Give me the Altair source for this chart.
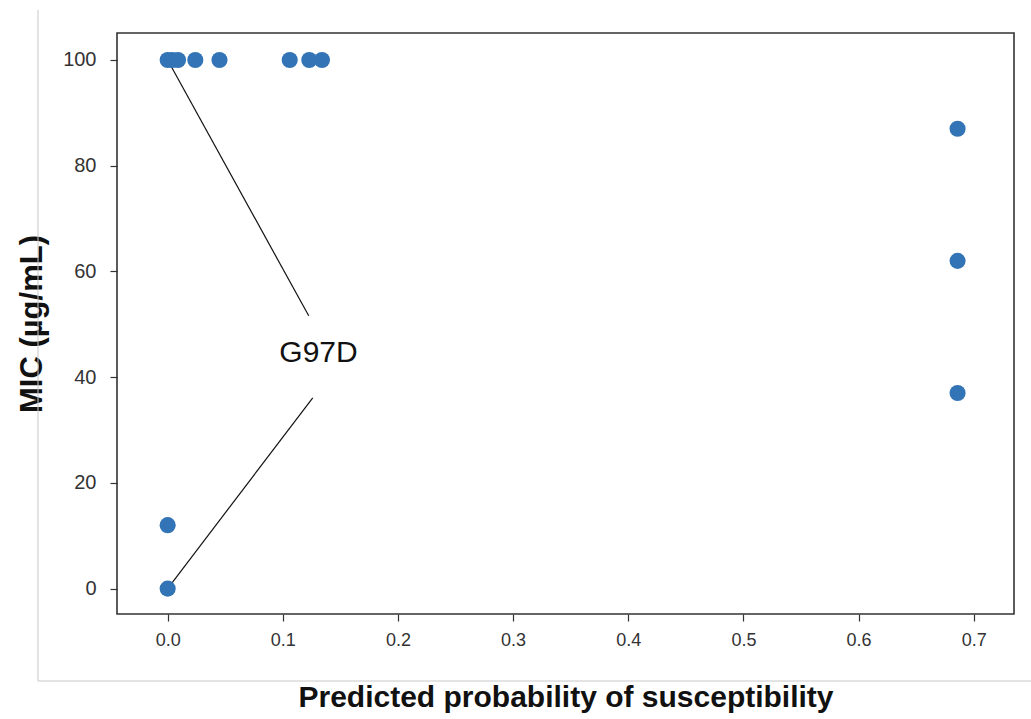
import altair as alt
import pandas as pd

# Scatter data
prob = [0.0, 0.004, 0.009, 0.024, 0.045, 0.106, 0.123, 0.134, 0.0, 0.0, 0.686, 0.686, 0.686]
mic = [100, 100, 100, 100, 100, 100, 100, 100, 12, 0, 87, 62, 37]

# Annotation "G97D" with two leader lines
ann_label = ["G97D"]
ann_text_x = [0.131]
ann_text_y = [44.5]
ann_line_x = [0.0, 0.0]
ann_line_y = [100, 0]
ann_line_x2 = [0.1225, 0.126]
ann_line_y2 = [51.6, 36.1]

x_ticks = [0.0, 0.1, 0.2, 0.3, 0.4, 0.5, 0.6, 0.7]
y_ticks = [0, 20, 40, 60, 80, 100]

pts = pd.DataFrame({"prob": prob, "mic": mic})
lines = pd.DataFrame({"x": ann_line_x, "y": ann_line_y, "x2": ann_line_x2, "y2": ann_line_y2})
txt = pd.DataFrame({"x": ann_text_x, "y": ann_text_y, "label": ann_label})

FONT = "Liberation Sans"

xscale = alt.Scale(domain=[-0.044, 0.735], nice=False, zero=False)
yscale = alt.Scale(domain=[-4.8, 105.1], nice=False, zero=False)

xaxis = alt.Axis(
    title="Predicted probability of susceptibility",
    values=x_ticks, format=".1f", grid=False, domain=False,
    tickColor="#333333", tickSize=7, tickWidth=1.2,
    labelFont=FONT, labelFontSize=18, labelColor="#333333", labelPadding=10,
    titleFont=FONT, titleFontSize=30, titleFontWeight="bold", titleColor="#111111",
    titlePadding=33,
)
yaxis = alt.Axis(
    title="MIC (µg/mL)",
    values=y_ticks, grid=False, domain=False,
    tickColor="#333333", tickSize=7, tickWidth=1.2,
    labelFont=FONT, labelFontSize=20, labelColor="#333333", labelPadding=14,
    titleFont=FONT, titleFontSize=31, titleFontWeight="bold", titleColor="#111111",
    titlePadding=14,
)

points = alt.Chart(pts).mark_circle(size=260, color="#3274B5", opacity=1).encode(
    x=alt.X("prob:Q", scale=xscale, axis=xaxis),
    y=alt.Y("mic:Q", scale=yscale, axis=yaxis),
)

leaders = alt.Chart(lines).mark_rule(color="#111111", strokeWidth=1.2).encode(
    x=alt.X("x:Q", scale=xscale),
    y=alt.Y("y:Q", scale=yscale),
    x2="x2:Q",
    y2="y2:Q",
)

label = alt.Chart(txt).mark_text(font=FONT, fontSize=30, color="#111111").encode(
    x=alt.X("x:Q", scale=xscale),
    y=alt.Y("y:Q", scale=yscale),
    text="label:N",
)

# light grey crop border lines seen in the reference image
border_v = alt.Chart(pd.DataFrame({"a": [0]})).mark_rule(color="#c8c8c8", strokeWidth=1).encode(
    x=alt.value(-79), y=alt.value(-23), y2=alt.value(648)
)
border_h = alt.Chart(pd.DataFrame({"a": [0]})).mark_rule(color="#c8c8c8", strokeWidth=1).encode(
    x=alt.value(-79), x2=alt.value(914), y=alt.value(648)
)

chart = alt.layer(border_v, border_h, leaders, points, label).properties(
    width=897,
    height=581,
    autosize=alt.AutoSizeParams(type="none"),
    padding={"left": 117, "top": 33, "right": 17, "bottom": 105},
    background="white",
).configure_view(stroke="#333333", strokeWidth=1.6)

chart.save("out.html", embed_options={"renderer": "svg", "actions": False})
